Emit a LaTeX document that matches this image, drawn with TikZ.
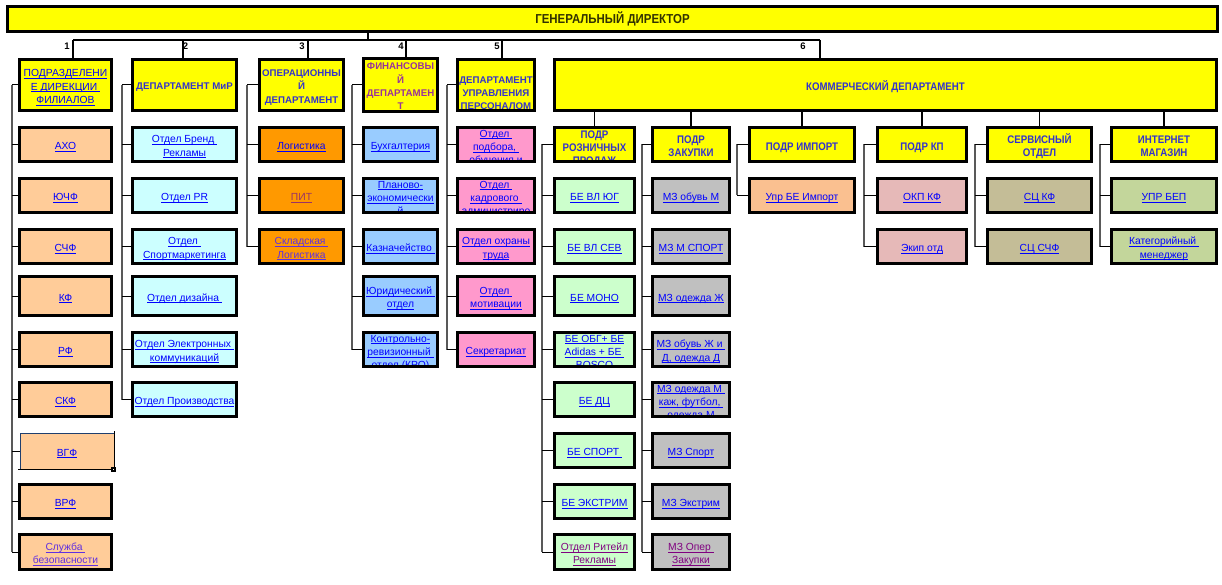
\documentclass[tikz,border=0pt]{standalone}
\usepackage{fontspec}
\setmainfont{Liberation Sans}
\newfontfamily\nrw[FakeStretch=0.88]{Liberation Sans}
\definecolor{yel}{HTML}{FFFF00}
\definecolor{peach}{HTML}{FFCC99}
\definecolor{cyanl}{HTML}{CCFFFF}
\definecolor{orng}{HTML}{FF9900}
\definecolor{lblue}{HTML}{99CCFF}
\definecolor{cpink}{HTML}{FF99CC}
\definecolor{lgreen}{HTML}{CCFFCC}
\definecolor{gry}{HTML}{C0C0C0}
\definecolor{imp}{HTML}{FAC090}
\definecolor{kpc}{HTML}{E6B9B8}
\definecolor{srv}{HTML}{C4BD97}
\definecolor{inet}{HTML}{C3D69B}
\definecolor{lnk}{HTML}{0000FF}
\definecolor{vis}{HTML}{800080}
\definecolor{pitc}{HTML}{993366}
\definecolor{vio}{HTML}{6030E0}
\definecolor{hdb}{HTML}{3333CC}
\definecolor{finc}{HTML}{993399}
\definecolor{gdc}{HTML}{333300}
\definecolor{navy}{HTML}{1F3F6F}
\newcommand\itf{\fontsize{10.3}{13.3}\selectfont\lineskiplimit=-50pt\lineskip=0pt\relax}
\newcommand\hdf{\bfseries\fontsize{9.7}{13.3}\selectfont\lineskiplimit=-50pt\lineskip=0pt\relax}
\newcommand\nhf{\nrw\bfseries\fontsize{11}{13}\selectfont\lineskiplimit=-50pt\lineskip=0pt\relax}
\newcommand\gdf{\nrw\bfseries\fontsize{13}{15}\selectfont}
\newcommand\zs{\rule[-0.16em]{0pt}{1.33em}}
\newcommand\zu[1]{\makebox[0pt][c]{\zs\underline{\smash{#1}}}}
\newcommand\zl[1]{\makebox[0pt][c]{\zs\smash{#1}}}
\newcommand\mybox[7]{\node[box,#6,minimum width={#4-#2-2.8},minimum height={#5-#3-2.8}] (#1) at ({(#2+#4)/2},{(#3+#5)/2}) {#7};}
\newcommand\myclip[8]{\node[box,#6,minimum width={#4-#2-2.8},minimum height={#5-#3-2.8},path picture={\node[inner sep=0pt,align=center,draw=none,fill=none,font=\itf,text=lnk,#7] at (path picture bounding box.center) {#8};}] (#1) at ({(#2+#4)/2},{(#3+#5)/2}) {};}
\newcommand\brk[4]{\coordinate (bk) at (#1,0);
 \draw[brv] (#2.west -| bk) -- (#4.west -| bk);
 \draw[brt] (#2.west -| bk) -- (#2.west);
 \foreach \n in {#3} {\draw[brt] (\n.west -| bk) -- (\n.west);}}
\begin{document}
\lineskiplimit=-50pt
\lineskip=0pt
\begin{tikzpicture}[x=1pt,y=-1pt,
  box/.style={draw=black,line width=2.8pt,inner sep=0pt,align=center,font=\itf,text=lnk},
  hd/.style={font=\hdf,text=hdb},
  nh/.style={font=\nhf,text=hdb},
  tier/.style={draw=black,line width=1.2pt},
  brv/.style={draw=black!65,line width=1.3pt},
  brt/.style={draw=black,line width=1pt},
  num/.style={font=\bfseries\fontsize{9.5}{10}\selectfont,inner sep=0pt}]
\useasboundingbox (0,0) rectangle (1222,585);
% general director
\mybox{gd}{6}{5}{1219}{33}{fill=yel,font=\gdf,text=gdc}{ГЕНЕРАЛЬНЫЙ ДИРЕКТОР}
% column 1
\mybox{h1}{18}{58}{113}{112}{fill=yel}{\zu{ПОДРАЗДЕЛЕНИ}\\\zu{Е ДИРЕКЦИИ\ }\\\zu{ФИЛИАЛОВ}}
\mybox{a1}{18}{126}{113}{163}{fill=peach}{\zu{АХО}}
\mybox{a2}{18}{177}{113}{214}{fill=peach}{\zu{ЮЧФ}}
\mybox{a3}{18}{228}{113}{265}{fill=peach}{\zu{СЧФ}}
\mybox{a4}{18}{275}{113}{317}{fill=peach}{\zu{КФ}}
\mybox{a5}{18}{331}{113}{368}{fill=peach}{\zu{РФ}}
\mybox{a6}{18}{381}{113}{418}{fill=peach}{\zu{СКФ}}
\node[fill=peach,inner sep=0pt,minimum width=94,minimum height=36,font=\itf,text=lnk] (a7) at (67,451) {\zu{ВГФ}};
\draw[navy,line width=0.8pt] (20,469) -- (20,433) -- (114,433);
\draw[black,line width=1.2pt] (18,469.5) -- (114.3,469.5) -- (114.3,431);
\fill[black] (111,467) rectangle (116,472);
\fill[white] (112.6,468.6) rectangle (114.4,470.4);
\mybox{a8}{18}{483}{113}{520}{fill=peach}{\zu{ВРФ}}
\mybox{a9}{18}{533}{113}{571}{fill=peach,text=vio}{\zu{Служба\ }\\\zu{безопасности}}
% column 2
\mybox{h2}{131}{58}{238}{112}{fill=yel,hd}{\zl{ДЕПАРТАМЕНТ МиР}}
\mybox{b1}{131}{126}{238}{163}{fill=cyanl}{\zu{Отдел Бренд\ }\\\zu{Рекламы}}
\mybox{b2}{131}{177}{238}{214}{fill=cyanl}{\zu{Отдел PR}}
\mybox{b3}{131}{228}{238}{265}{fill=cyanl}{\zu{Отдел\ }\\\zu{Спортмаркетинга}}
\mybox{b4}{131}{275}{238}{317}{fill=cyanl}{\zu{Отдел дизайна\ }}
\mybox{b5}{131}{331}{238}{368}{fill=cyanl}{\zu{Отдел Электронных\ }\\\zu{коммуникаций}}
\mybox{b6}{131}{381}{238}{418}{fill=cyanl}{\zu{Отдел Производства}}
% column 3
\mybox{h3}{258}{58}{345}{112}{fill=yel,hd}{\zl{ОПЕРАЦИОННЫ}\\\zl{Й}\\\zl{ДЕПАРТАМЕНТ}}
\mybox{c1}{258}{126}{345}{163}{fill=orng}{\zu{Логистика}}
\mybox{c2}{258}{177}{345}{214}{fill=orng,text=pitc}{\zu{ПИТ}}
\mybox{c3}{258}{228}{345}{265}{fill=orng,text=vio}{\zu{Складская\ }\\\zu{Логистика}}
% column 4
\mybox{h4}{362}{58}{439}{112}{fill=yel,hd,text=finc}{\zl{ФИНАНСОВЫ}\\\zl{Й}\\\zl{ДЕПАРТАМЕН}\\\zl{Т}}
\mybox{d1}{362}{126}{439}{163}{fill=lblue}{\zu{Бухгалтерия}}
\myclip{d2}{362}{177}{439}{214}{fill=lblue}{yshift=-1pt}{\zu{Планово-}\\\zu{экономически}\\\zu{й}}
\mybox{d3}{362}{228}{439}{265}{fill=lblue}{\zu{Казначейство\ }}
\mybox{d4}{362}{275}{439}{317}{fill=lblue}{\zu{Юридический\ }\\\zu{отдел}}
\myclip{d5}{362}{331}{439}{368}{fill=lblue}{yshift=-1pt}{\zu{Контрольно-}\\\zu{ревизионный\ }\\\zu{отдел (КРО)}}
% column 5
\myclip{h5}{456}{58}{536}{112}{fill=yel}{font=\hdf,text=hdb,yshift=-6.5pt}{\zl{ДЕПАРТАМЕНТ}\\\zl{УПРАВЛЕНИЯ}\\\zl{ПЕРСОНАЛОМ}}
\myclip{e1}{456}{126}{536}{163}{fill=cpink}{yshift=-1pt}{\zu{Отдел\ }\\\zu{подбора,\ }\\\zu{обучения и}}
\myclip{e2}{456}{177}{536}{214}{fill=cpink}{yshift=-1pt}{\zu{Отдел\ }\\\zu{кадрового\ }\\\zu{администриро}}
\mybox{e3}{456}{228}{536}{265}{fill=cpink}{\zu{Отдел охраны}\\\zu{труда}}
\mybox{e4}{456}{275}{536}{317}{fill=cpink}{\zu{Отдел\ }\\\zu{мотивации}}
\mybox{e5}{456}{331}{536}{368}{fill=cpink}{\zu{Секретариат}}
% column 6
\mybox{h6}{553}{58}{1218}{112}{fill=yel,nh}{\zl{КОММЕРЧЕСКИЙ ДЕПАРТАМЕНТ}}
\myclip{s1}{553}{126}{636}{163}{fill=yel}{font=\nhf,text=hdb,yshift=-1pt}{\zl{ПОДР}\\\zl{РОЗНИЧНЫХ}\\\zl{ПРОДАЖ}}
\mybox{s2}{651}{126}{731}{163}{fill=yel,nh}{\zl{ПОДР}\\\zl{ЗАКУПКИ}}
\mybox{s3}{748}{126}{856}{163}{fill=yel,nh}{\zl{ПОДР ИМПОРТ}}
\mybox{s4}{876}{126}{968}{163}{fill=yel,nh}{\zl{ПОДР КП}}
\mybox{s5}{986}{126}{1093}{163}{fill=yel,nh}{\zl{СЕРВИСНЫЙ}\\\zl{ОТДЕЛ}}
\mybox{s6}{1110}{126}{1218}{163}{fill=yel,nh}{\zl{ИНТЕРНЕТ}\\\zl{МАГАЗИН}}
% retail
\mybox{f1}{553}{177}{636}{214}{fill=lgreen}{\zu{БЕ ВЛ ЮГ}}
\mybox{f2}{553}{228}{636}{265}{fill=lgreen}{\zu{БЕ ВЛ СЕВ}}
\mybox{f3}{553}{275}{636}{317}{fill=lgreen}{\zu{БЕ МОНО}}
\myclip{f4}{553}{331}{636}{368}{fill=lgreen}{yshift=-1pt}{\zu{БЕ ОБГ+ БЕ}\\\zu{Adidas + БЕ\ }\\\zu{BOSCO}}
\mybox{f5}{553}{381}{636}{418}{fill=lgreen}{\zu{БЕ ДЦ}}
\mybox{f6}{553}{432}{636}{469}{fill=lgreen}{\zu{БЕ СПОРТ\ }}
\mybox{f7}{553}{483}{636}{520}{fill=lgreen}{\zu{БЕ ЭКСТРИМ}}
\mybox{f8}{553}{533}{636}{571}{fill=lgreen,text=vis}{\zu{Отдел Ритейл}\\\zu{Рекламы}}
% purchasing
\mybox{g1}{651}{177}{731}{214}{fill=gry}{\zu{МЗ обувь М}}
\mybox{g2}{651}{228}{731}{265}{fill=gry}{\zu{МЗ М СПОРТ}}
\mybox{g3}{651}{275}{731}{317}{fill=gry}{\zu{МЗ одежда Ж}}
\mybox{g4}{651}{331}{731}{368}{fill=gry}{\zu{МЗ обувь Ж и\ }\\\zu{Д, одежда Д}}
\myclip{g5}{651}{381}{731}{418}{fill=gry}{yshift=-1pt}{\zu{МЗ одежда М\ }\\\zu{каж, футбол,\ }\\\zu{одежда М}}
\mybox{g6}{651}{432}{731}{469}{fill=gry}{\zu{МЗ Спорт}}
\mybox{g7}{651}{483}{731}{520}{fill=gry}{\zu{МЗ Экстрим}}
\mybox{g8}{651}{533}{731}{571}{fill=gry,text=vis}{\zu{МЗ Опер\ }\\\zu{Закупки}}
% others
\mybox{i1}{748}{177}{856}{214}{fill=imp}{\zu{Упр БЕ Импорт}}
\mybox{k1}{876}{177}{968}{214}{fill=kpc}{\zu{ОКП КФ}}
\mybox{k2}{876}{228}{968}{265}{fill=kpc}{\zu{Экип отд}}
\mybox{v1}{986}{177}{1093}{214}{fill=srv}{\zu{СЦ КФ}}
\mybox{v2}{986}{228}{1093}{265}{fill=srv}{\zu{СЦ СЧФ}}
\mybox{w1}{1110}{177}{1218}{214}{fill=inet}{\zu{УПР БЕП}}
\mybox{w2}{1110}{228}{1218}{265}{fill=inet}{\zu{Категорийный\ }\\\zu{менеджер}}
% top tier connectors
\coordinate (gj) at (368,40);
\coordinate (t1) at (73,40);
\coordinate (t2) at (183,40);
\coordinate (t3) at (308,40);
\coordinate (t4) at (406,40);
\coordinate (t5) at (502,40);
\coordinate (t6) at (820,40);
\draw[tier] (gd.south -| gj) -- (gj);
\draw[tier] (t1) -- (t6);
\foreach \i in {1,...,6} {\draw[tier] (t\i) -- (t\i |- h\i.north);}
\node[num] (n1) at (67,46.5) {1};
\node[num] (n2) at (185.5,46.5) {2};
\node[num] (n3) at (302,46.5) {3};
\node[num] (n4) at (401,46.5) {4};
\node[num] (n5) at (497,46.5) {5};
\node[num] (n6) at (803,46.5) {6};
\foreach \i in {1,...,6} {\draw[tier] (h6.south -| s\i.north) -- (s\i.north);}
% brackets
\brk{12}{h1}{a1,a2,a3,a4,a5,a6,a7,a8,a9}{a9}
\brk{122}{h2}{b1,b2,b3,b4,b5,b6}{b6}
\brk{247}{h3}{c1,c2,c3}{c3}
\brk{352}{h4}{d1,d2,d3,d4,d5}{d5}
\brk{447}{h5}{e1,e2,e3,e4,e5}{e5}
\brk{542}{s1}{f1,f2,f3,f4,f5,f6,f7,f8}{f8}
\brk{642}{s2}{g1,g2,g3,g4,g5,g6,g7,g8}{g8}
\brk{737}{s3}{i1}{i1}
\brk{864}{s4}{k1,k2}{k2}
\brk{975}{s5}{v1,v2}{v2}
\brk{1100}{s6}{w1,w2}{w2}
\end{tikzpicture}
\end{document}
